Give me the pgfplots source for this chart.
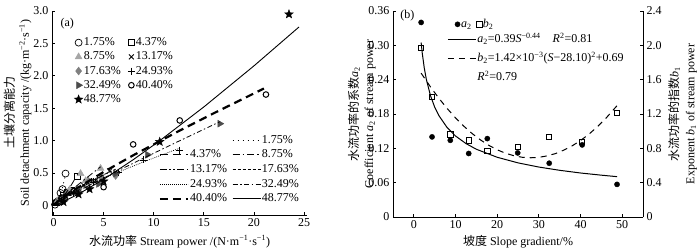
\documentclass[border=0pt]{standalone}
\usepackage{fontspec}
\setmainfont{Liberation Serif}
\newfontfamily\cjk{Noto Sans CJK SC}
\usepackage{pgfplots}
\pgfplotsset{compat=1.18}
\newcommand\ff{\fontsize{12}{14}\selectfont}
\definecolor{lg}{gray}{0.65}
\definecolor{mg}{gray}{0.50}
\definecolor{dg}{gray}{0.30}
\pgfdeclareplotmark{fstar}{%
  \pgfpathmoveto{\pgfpointpolar{90}{\pgfplotmarksize}}%
  \pgfpathlineto{\pgfpointpolar{126}{0.42*\pgfplotmarksize}}%
  \pgfpathlineto{\pgfpointpolar{162}{\pgfplotmarksize}}%
  \pgfpathlineto{\pgfpointpolar{198}{0.42*\pgfplotmarksize}}%
  \pgfpathlineto{\pgfpointpolar{234}{\pgfplotmarksize}}%
  \pgfpathlineto{\pgfpointpolar{270}{0.42*\pgfplotmarksize}}%
  \pgfpathlineto{\pgfpointpolar{306}{\pgfplotmarksize}}%
  \pgfpathlineto{\pgfpointpolar{342}{0.42*\pgfplotmarksize}}%
  \pgfpathlineto{\pgfpointpolar{18}{\pgfplotmarksize}}%
  \pgfpathlineto{\pgfpointpolar{54}{0.42*\pgfplotmarksize}}%
  \pgfpathclose\pgfusepathqfillstroke}
\pgfplotsset{
  base/.style={scale only axis, tick align=inside, major tick length=3pt,
    axis line style={-, line width=0.7pt}, tick style={black, line width=0.7pt},
    ticklabel style={font=\ff}, label style={font=\ff},
    /pgf/number format/assume math mode=true, clip=false,
    legend cell align=left},
  lleg/.style={legend image code/.code={\draw[##1] (0pt,0pt) -- (28pt,0pt);}},
  mleg/.style={legend image code/.code={\draw[mark repeat=2,mark phase=2,##1] plot coordinates {(0pt,0pt)(4pt,0pt)(8pt,0pt)};}},
}
\begin{document}
\begin{tikzpicture}
\path[use as bounding box] (0,0) rectangle (700pt,249pt);
% ---------------- panel (a): markers ----------------
\begin{axis}[base, mleg, at={(52pt,34pt)}, anchor=south west, width=255pt, height=204pt,
  xmin=-0.15, xmax=25.3, ymin=-0.15, ymax=3.0,
  axis x line*=bottom, axis y line*=left,
  xtick={0,5,10,15,20,25}, xticklabels={0,5,10,15,20,25},
  ytick={0,0.5,1,1.5,2,2.5,3}, yticklabels={0,0.5,1.0,1.5,2.0,2.5,3.0},
  xlabel={{\cjk 水流功率} Stream power /(N·m\textsuperscript{−1}·s\textsuperscript{−1})},
  xlabel style={at={(axis description cs:0.5,-0.13)}, anchor=center},
  ylabel={{\cjk 土壤分离能力}\\[1pt]Soil detachment capacity /(kg·m\textsuperscript{−2}·s\textsuperscript{−1})},
  ylabel style={align=center, at={(axis description cs:-0.135,0.5)}, anchor=center},
  legend columns=2,
  legend style={at={(axis description cs:0.075,0.89)}, anchor=north west, draw=none, fill=none,
    font=\ff, nodes={inner sep=1pt, text height=9pt, text depth=3pt}, row sep=0.2pt,
    /tikz/every even column/.append style={column sep=6pt}},
]
\addplot[only marks, mark=o, mark size=3.5pt, black, line width=0.7pt] coordinates {(0.15,0.01)(0.3,0.05)(0.5,0.07)(0.7,0.19)(0.9,0.25)(1.2,0.49)};
\addlegendentry{1.75\%}
\addplot[only marks, mark=square, mark size=2.8pt, black, line width=0.7pt] coordinates {(0.3,0.04)(0.6,0.06)(1.0,0.16)(1.4,0.20)(1.8,0.24)(2.4,0.45)};
\addlegendentry{4.37\%}
\addplot[only marks, mark=triangle*, mark size=4pt, lg] coordinates {(0.4,0.07)(1.0,0.12)(1.6,0.24)(2.7,0.49)(3.2,0.38)(4.7,0.57)};
\addlegendentry{8.75\%}
\addplot[only marks, mark=x, mark size=3.5pt, black, line width=0.8pt] coordinates {(0.5,0.05)(1.2,0.14)(2.0,0.19)(3.0,0.31)(4.2,0.38)(5.6,0.53)};
\addlegendentry{13.17\%}
\addplot[only marks, mark=diamond*, mark size=4pt, mg] coordinates {(0.6,0.08)(1.4,0.19)(2.4,0.25)(3.5,0.37)(4.8,0.43)(6.2,0.46)};
\addlegendentry{17.63\%}
\addplot[only marks, mark=+, mark size=3.5pt, black, line width=0.9pt] coordinates {(0.8,0.10)(2.0,0.18)(4.0,0.36)(6.5,0.50)(9.0,0.70)(12.6,0.85)};
\addlegendentry{24.93\%}
\addplot[only marks, mark=triangle*, mark size=4pt, dg, mark options={rotate=-90}] coordinates {(1.0,0.09)(2.5,0.21)(4.5,0.33)(6.2,0.49)(9.4,0.78)(16.6,1.26)};
\addlegendentry{32.49\%}
\addplot[only marks, mark=o, mark size=2.8pt, black, line width=1pt] coordinates {(0.8,0.12)(2.0,0.22)(5.0,0.28)(7.95,0.94)(12.6,1.31)(21.2,1.71)};
\addlegendentry{40.40\%}
\addplot[only marks, mark=fstar, mark size=4.5pt, black] coordinates {(1.0,0.05)(2.5,0.17)(3.6,0.25)(5.0,0.37)(10.6,0.98)(23.5,2.95)};
\addlegendentry{48.77\%}
\node[anchor=west, font=\ff] at (axis description cs:0.02,0.94) {(a)};
\end{axis}
% ---------------- panel (a): fitted lines ----------------
\begin{axis}[base, lleg, hide axis, at={(52pt,34pt)}, anchor=south west, width=255pt, height=204pt,
  xmin=-0.15, xmax=25.3, ymin=-0.15, ymax=3.0,
  legend columns=2,
  legend style={at={(axis description cs:0.985,0.035)}, anchor=south east, draw=none, fill=none,
    font=\ff, nodes={inner sep=1pt, text height=9pt, text depth=3pt}, row sep=0.6pt,
    /tikz/every even column/.append style={column sep=4pt}},
]
\addlegendimage{empty legend}\addlegendentry{}
\addplot[black, line width=0.8pt, dash pattern=on 1pt off 4pt] coordinates {(0,0)(0.15,0.0081)(0.3,0.0317)(0.5,0.0868)(0.7,0.168)(0.9,0.276)(1.05,0.374)(1.2,0.487)};
\addlegendentry{1.75\%}
\addplot[black, line width=0.8pt, dash pattern=on 8pt off 5pt] coordinates {(0,0)(0.3,0.0259)(0.6,0.0685)(1.0,0.14)(1.4,0.2242)(1.8,0.3188)(2.4,0.477)};
\addlegendentry{4.37\%}
\addplot[black, line width=0.8pt, dash pattern=on 7pt off 3pt on 1.5pt off 3pt] coordinates {(0,0)(0.4,0.0555)(1.0,0.134)(1.6,0.2107)(2.2,0.2863)(3.2,0.4107)(4.7,0.5947)};
\addlegendentry{8.75\%}
\addplot[black, line width=0.8pt, dash pattern=on 7pt off 2.5pt on 1.5pt off 2.5pt on 1.5pt off 2.5pt] coordinates {(0,0)(0.5,0.0598)(1.2,0.1306)(2.0,0.2061)(3.0,0.296)(4.2,0.3998)(5.6,0.517)};
\addlegendentry{13.17\%}
\addplot[black, line width=0.8pt, dash pattern=on 3pt off 2pt] coordinates {(0,0)(0.1,0.0233)(0.3,0.0543)(0.6,0.0925)(1.4,0.1775)(2.4,0.2686)(3.5,0.359)(4.8,0.4577)(6.2,0.5572)};
\addlegendentry{17.63\%}
\addplot[black, line width=0.7pt, dash pattern=on 0.8pt off 1.2pt] coordinates {(0,0)(0.2,0.0302)(0.8,0.0934)(2.0,0.197)(4.0,0.3467)(6.5,0.5149)(9.0,0.6712)(12.6,0.883)};
\addlegendentry{24.93\%}
\addplot[black, line width=0.8pt, dash pattern=on 5pt off 2.5pt on 1.5pt off 2.5pt] coordinates {(0,0)(0.3,0.0306)(1.0,0.094)(2.5,0.2208)(4.5,0.3819)(7.0,0.5764)(9.4,0.7587)(12.5,0.9896)(16.6,1.29)};
\addlegendentry{32.49\%}
\addplot[black, line width=2.2pt, dash pattern=on 8pt off 5pt] coordinates {(0,0)(0.2,0.0309)(0.8,0.1037)(2.0,0.2309)(5.0,0.5143)(8.0,0.7757)(12.6,1.154)(16.0,1.4217)(21.0,1.803)};
\addlegendentry{40.40\%}
\addplot[black, line width=0.9pt] coordinates {(0,0)(0.5,0.0246)(1.0,0.057)(2.5,0.1731)(5.0,0.4008)(8.0,0.7086)(10.6,0.997)(15.0,1.518)(20.0,2.152)(24.5,2.753)};
\addlegendentry{48.77\%}
\end{axis}
% ---------------- panel (b): left axis a2 ----------------
\begin{axis}[base, mleg, at={(393pt,32pt)}, anchor=south west, width=250pt, height=206pt,
  xmin=-5, xmax=55, ymin=0, ymax=0.36,
  axis x line*=bottom, axis y line*=left,
  xtick={0,10,20,30,40,50}, xticklabels={0,10,20,30,40,50},
  ytick={0,0.06,0.12,0.18,0.24,0.30,0.36}, yticklabels={0,0.06,0.12,0.18,0.24,0.30,0.36},
  xlabel={{\cjk 坡度} Slope gradient/\%},
  xlabel style={at={(axis description cs:0.5,-0.121)}, anchor=center},
  ylabel={{\cjk 水流功率的系数}\textit{a}\textsubscript{2}\\[1pt]Coefficient \textit{a}\textsubscript{2} of stream power},
  ylabel style={align=center, at={(axis description cs:-0.125,0.5)}, anchor=center},
  legend columns=2,
  legend style={at={(axis description cs:0.235,0.98)}, anchor=north west, draw=none, fill=none,
    font=\ff, nodes={inner sep=1pt, text height=9pt, text depth=3pt},
    /tikz/every even column/.append style={column sep=4pt}},
]
\addplot[only marks, mark=*, mark size=2.6pt, black, forget plot] coordinates {(1.75,0.340)(4.37,0.140)(8.75,0.134)(13.17,0.111)(17.63,0.137)(24.93,0.112)(32.49,0.094)(40.40,0.126)(48.77,0.057)};
\addplot[black, line width=1pt, forget plot] coordinates {(1.75,0.3049)(2,0.2875)(2.5,0.2606)(3,0.2405)(4,0.2119)(5,0.1921)(6,0.1773)(8,0.1562)(10,0.1416)(12.5,0.1284)(15,0.1184)(20,0.1044)(25,0.0946)(30,0.0873)(35,0.0816)(40,0.0769)(45,0.0731)(48.77,0.0705)};
\addlegendimage{only marks, mark=*, mark size=2.6pt, black}
\addlegendentry{\textit{a}\textsubscript{2}}
\addlegendimage{only marks, mark=square, mark size=2.6pt, black, line width=0.7pt}
\addlegendentry{\textit{b}\textsubscript{2}}
\node[anchor=west, font=\ff] at (axis description cs:0.015,0.98) {(b)};
\end{axis}
% ---------------- panel (b): right axis b2 ----------------
\begin{axis}[base, lleg, at={(393pt,32pt)}, anchor=south west, width=250pt, height=206pt,
  xmin=-5, xmax=55, ymin=0, ymax=2.4,
  axis y line*=right, axis x line=none,
  ytick={0,0.4,0.8,1.2,1.6,2.0,2.4}, yticklabels={0,0.4,0.8,1.2,1.6,2.0,2.4},
  ylabel={{\cjk 水流功率的指数}\textit{b}\textsubscript{1}\\[2pt]Exponent \textit{b}\textsubscript{1} of stream power},
  ylabel style={align=center, at={(axis description cs:1.158,0.5)}, anchor=center, rotate=0},
  legend style={at={(axis description cs:0.205,0.915)}, anchor=north west, draw=none, fill=none,
    font=\ff, nodes={inner sep=1pt, text height=11pt, text depth=4pt}, row sep=2pt},
]
\addplot[only marks, mark=square, mark size=2.6pt, black, line width=0.7pt, forget plot] coordinates {(1.75,1.97)(4.37,1.40)(8.75,0.963)(13.17,0.893)(17.63,0.769)(24.93,0.815)(32.49,0.932)(40.40,0.874)(48.77,1.212)};
\addplot[black, line width=1pt, dash pattern=on 6pt off 5pt, forget plot] coordinates {(1.75,1.676)(4,1.515)(6,1.384)(8,1.264)(10,1.155)(12,1.058)(14,0.972)(16,0.898)(18,0.835)(20,0.783)(22,0.743)(24,0.714)(26,0.696)(28.1,0.69)(30,0.695)(32,0.712)(34,0.739)(36,0.779)(38,0.829)(40,0.891)(42,0.964)(44,1.049)(46,1.145)(48.77,1.297)};
\addlegendimage{black, line width=1pt}
\addlegendentry{\textit{a}\textsubscript{2}=0.39\textit{S}\textsuperscript{−0.44}\quad\textit{R}\textsuperscript{2}=0.81}
\addlegendimage{black, line width=1pt, dash pattern=on 6pt off 5pt}
\addlegendentry{\textit{b}\textsubscript{2}=1.42×10\textsuperscript{−3}(\textit{S}−28.10)\textsuperscript{2}+0.69}
\addlegendimage{empty legend}
\addlegendentry{\textit{R}\textsuperscript{2}=0.79}
\end{axis}
\end{tikzpicture}
\end{document}
